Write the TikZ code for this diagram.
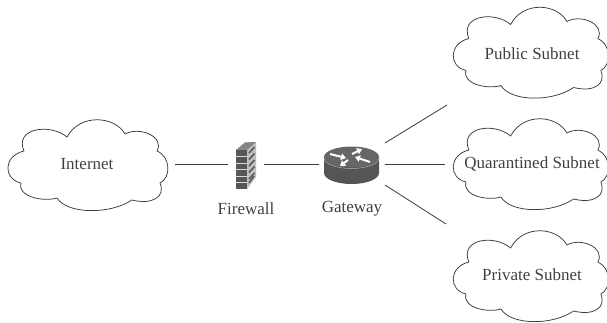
\documentclass[tikz,border=0pt]{standalone}
\usepackage{fontspec}
\setmainfont{Liberation Serif}
\usetikzlibrary{arrows.meta}
\definecolor{linegray}{HTML}{3A3A3A}
\definecolor{devdark}{HTML}{555555}
\definecolor{devtop}{HTML}{666666}
\definecolor{devlight}{HTML}{BEBEBE}
\tikzset{
  x=1pt,y=-1pt,
  cloudline/.style={draw=linegray,line width=0.75pt,line join=round},
  link/.style={draw=linegray,line width=0.8pt},
  lbl/.style={font=\fontsize{17}{20}\selectfont,text=black!75,inner sep=0pt},
  slot/.style={inner sep=0pt,outer sep=0pt,rectangle},
  cloudslot/.style={slot,minimum width=#1,minimum height=80pt},
  whitearrow/.style={draw=white,line width=2pt,-{Triangle[width=6.5pt,length=5pt]}},
  pics/cloudshape/.style={code={
    \draw[cloudline,xscale=#1]
      (-63,-14) .. controls (-84,-9) and (-84,14) .. (-66,18)
      .. controls (-70,32) and (-43,37) .. (-30,33)
      .. controls (-20,49) and (22,50) .. (45,35)
      .. controls (65,40) and (79,32) .. (73,18)
      .. controls (84,13) and (84,-8) .. (70,-14)
      .. controls (78,-28) and (53,-39) .. (38,-31)
      .. controls (28,-49) and (-7,-52) .. (-20,-28)
      .. controls (-37,-42) and (-73,-37) .. (-63,-14) -- cycle;
  }}
}
\begin{document}
\begin{tikzpicture}
\useasboundingbox (0,0) rectangle (607,322);
% clouds
\pic at (87,165) {cloudshape=1};
\pic at (530,52.5) {cloudshape=0.97};
\pic at (530,164) {cloudshape=0.97};
\pic at (530,276) {cloudshape=0.97};
% anchors and labels
\node[cloudslot=176pt,lbl] (internet) at (87,164) {Internet};
\node[lbl] (public) at (532,54) {Public Subnet};
\node[lbl] (quarantined) at (532,164) {Quarantined Subnet};
\node[lbl] (private) at (532,275) {Private Subnet};
\node[slot,minimum width=36pt,minimum height=48pt] (firewall) at (246,164) {};
\node[slot,minimum width=66pt,minimum height=42pt] (gateway) at (352,164) {};
\node[lbl] (fwlabel) at (246,209) {Firewall};
\node[lbl] (gwlabel) at (352,209) {Gateway};
\coordinate (publicend) at (447,105);
\coordinate (quarend) at (445,164);
\coordinate (privend) at (446,224);
% connectors
\draw[link] (internet.east) -- (firewall.west);
\draw[link] (firewall.east) -- (gateway.west);
\draw[link] (gateway.north east) -- (publicend);
\draw[link] (gateway.east) -- (quarend);
\draw[link] (gateway.south east) -- (privend);
% firewall icon
\fill[devlight] (236,150) -- (245,142.5) -- (256,142) -- (256,177) -- (247,189) -- (247,150) -- cycle;
\fill[devtop!80!white] (236,150) -- (245,142.5) -- (256,142) -- (247,150) -- cycle;
\fill[devdark] (236,150) rectangle (247,189);
\foreach \yy in {156.5,163,169.5,176,182.5}{
  \draw[white!85!black,line width=0.7pt] (236,\yy) -- (247,\yy);
  \draw[devdark,line width=1.5pt] (249,{\yy-3.5}) -- (254.5,{\yy-9.5});
}
\draw[devdark,line width=1.5pt] (249,183) -- (254,176);
% gateway icon
\fill[devdark] (324,158) -- (324,173) arc[start angle=180,end angle=360,x radius=27.5pt,y radius=11pt] -- (379,158) -- cycle;
\fill[devtop] (351.5,157) ellipse[x radius=27.5pt,y radius=10.5pt];
\draw[white!70!black,line width=0.5pt] (324,158) arc[start angle=180,end angle=360,x radius=27.5pt,y radius=10.5pt];
\draw[whitearrow] (330,154) -- (346,158);
\draw[whitearrow] (352,154) -- (362,149);
\draw[whitearrow] (348,160) -- (340,166);
\draw[whitearrow] (370,162) -- (355,157);
\end{tikzpicture}
\end{document}
